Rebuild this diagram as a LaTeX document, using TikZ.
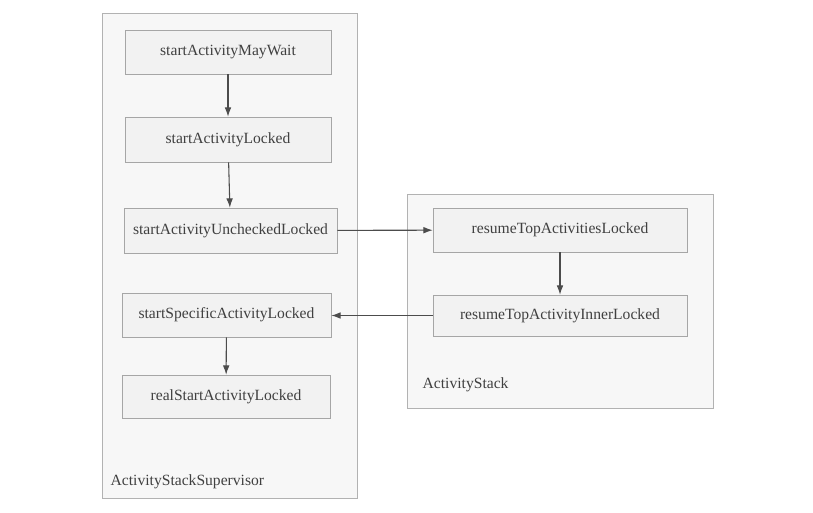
\documentclass[tikz,border=0pt]{standalone}
\usepackage{fontspec}
\setmainfont{Liberation Serif}
\usepackage{tikz}
\usetikzlibrary{
	arrows.meta,
	positioning,
}

\begin{document}
\begin{tikzpicture}[x=0.75pt, y=-0.75pt,
		every node/.style={font=\fontsize{11.7}{14}\selectfont, text=black!75},
		func/.style={draw=black!35, fill=black!5, inner sep=0pt},
		group/.style={draw=black!30, fill=black!3},
		call/.style={draw=black!70, line width=0.8pt, -{Latex[length=7pt, width=5pt]}}]

	\useasboundingbox (0, 0) rectangle (813, 513);

	% 两个分组框
	\draw[group] (102, 13) rectangle (357, 498);
	\draw[group] (407, 194) rectangle (713, 408);
	\node[anchor=west] (supLabel) at (106, 482) {ActivityStackSupervisor};
	\node[anchor=west] (stackLabel) at (418, 385) {ActivityStack};

	% ActivityStackSupervisor 中的方法
	\node[func, minimum width=206*0.75pt, minimum height=44*0.75pt] (mayWait) at (228, 52) {startActivityMayWait};
	\node[func, minimum width=206*0.75pt, minimum height=45*0.75pt] (locked) at (228, 139.5) {startActivityLocked};
	\node[func, minimum width=213*0.75pt, minimum height=45*0.75pt] (unchecked) at (230.5, 230.5) {startActivityUncheckedLocked};
	\node[func, minimum width=209*0.75pt, minimum height=44*0.75pt] (specific) at (226.5, 315) {startSpecificActivityLocked};
	\node[func, minimum width=208*0.75pt, minimum height=43*0.75pt] (realStart) at (226, 396.5) {realStartActivityLocked};

	% ActivityStack 中的方法
	\node[func, minimum width=254*0.75pt, minimum height=44*0.75pt] (resumeTop) at (560, 230) {resumeTopActivitiesLocked};
	\node[func, minimum width=254*0.75pt, minimum height=41*0.75pt] (resumeInner) at (560, 315.5) {resumeTopActivityInnerLocked};

	% 调用关系
	\draw[call] (mayWait) -- (locked);
	\draw[call] (locked) -- (unchecked);
	\draw[call] (unchecked) -- (resumeTop);
	\draw[call] (resumeTop) -- (resumeInner);
	\draw[call] (resumeInner.west) -- (specific.east |- resumeInner.west);
	\draw[call] (specific) -- (realStart);

\end{tikzpicture}
\end{document}
